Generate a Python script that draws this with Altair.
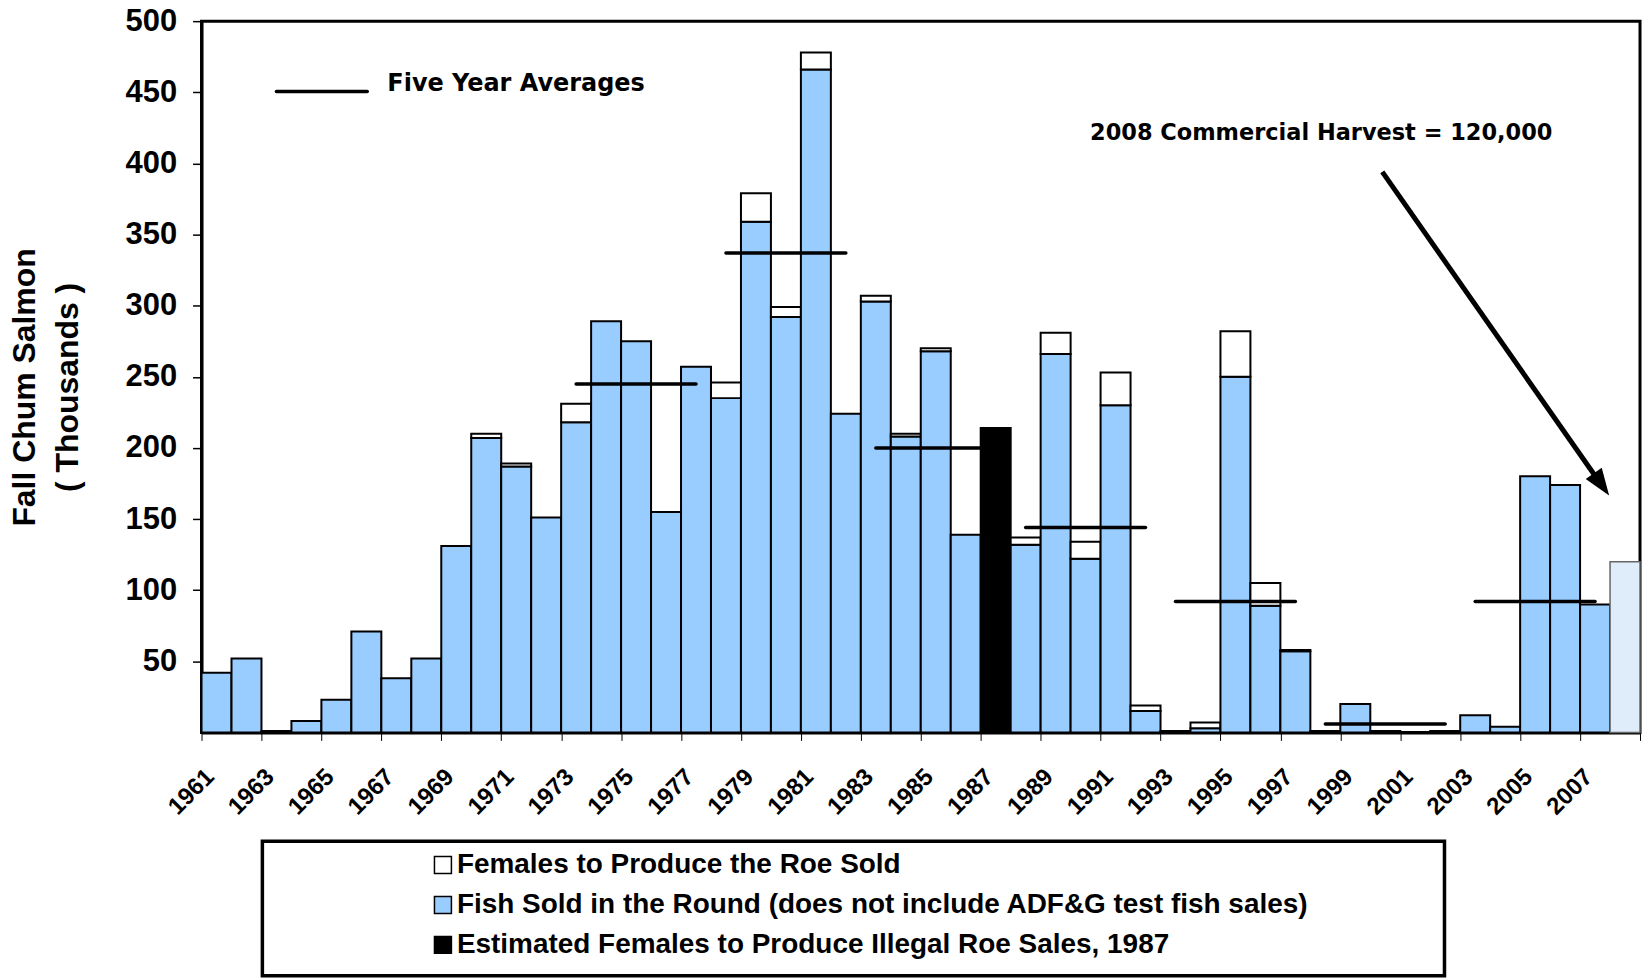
import altair as alt
import pandas as pd

# ---------------- data (thousands of fish) ----------------
years = list(range(1961, 2009))
round_sold = [42, 52, 1, 8, 23, 71, 38, 52, 131,
              207, 187, 151, 218, 289, 275, 155, 257, 235, 359,
              292, 466, 224, 303, 208, 268, 139, 0, 132, 266,
              122, 230, 15, 1, 3, 250, 89, 57, 1, 20,
              1, 0, 1, 12, 4, 180, 174, 90, 120]
roe_females = [0, 0, 0, 0, 0, 0, 0, 0, 0,
               3, 2, 0, 13, 0, 0, 0, 0, 11, 20,
               7, 12, 0, 4, 2, 2, 0, 0, 5, 15,
               12, 23, 4, 0, 4, 32, 16, 1, 0, 0,
               0, 0, 0, 0, 0, 0, 0, 0, 0]
illegal_year = 1987
illegal_value = 214
harvest_2008 = 120

cats = ["Females to Produce the Roe Sold",
        "Fish Sold in the Round (does not include ADF&G test fish sales)",
        "Estimated Females to Produce Illegal Roe Sales, 1987"]
cat_colors = ["white", "#99CCFF", "black"]

avg_start = [1973, 1978, 1983, 1988, 1993, 1998, 2003]
avg_end = [1977, 1982, 1987, 1992, 1997, 2002, 2007]
avg_value = [245, 337, 200, 144, 92, 6, 92]

# annotation anchors in data units
key_line_x = [1963.0, 1966.03]
key_line_y = 450.6
key_text = "Five Year Averages"
key_text_xy = (1966.7, 455.5)
harvest_text = "2008 Commercial Harvest = 120,000"
harvest_text_xy = (1990.15, 421.4)
arrow_from = (1999.9, 394.0)
arrow_to = (2007.47, 166.6)
arrow_line_end = (2007.18, 175.0)

# ---------------- tables ----------------
rows = []
for yr, r, f in zip(years, round_sold, roe_females):
    if yr == 2008:
        continue
    if yr == illegal_year:
        rows.append(dict(x0=yr - 0.5, x1=yr + 0.5, y0=0, y1=illegal_value, cat=cats[2]))
        continue
    rows.append(dict(x0=yr - 0.5, x1=yr + 0.5, y0=0, y1=r, cat=cats[1]))
    if f > 0:
        rows.append(dict(x0=yr - 0.5, x1=yr + 0.5, y0=r, y1=r + f, cat=cats[0]))
seg = pd.DataFrame(rows)
last = pd.DataFrame([dict(x0=2007.5, x1=2008.5, y0=0, y1=harvest_2008)])
avg = pd.DataFrame(dict(x0=avg_start, x1=avg_end, v=avg_value))
key_df = pd.DataFrame(dict(x0=[key_line_x[0]], x1=[key_line_x[1]], v=[key_line_y]))
texts = pd.DataFrame(dict(x=[key_text_xy[0], harvest_text_xy[0]],
                          y=[key_text_xy[1], harvest_text_xy[1]],
                          t=[key_text, harvest_text],
                          s=[24, 22.5]))
arrow = pd.DataFrame(dict(x=[arrow_from[0]], y=[arrow_from[1]],
                          x2=[arrow_line_end[0]], y2=[arrow_line_end[1]]))
head = pd.DataFrame(dict(x=[arrow_to[0]], y=[arrow_to[1]]))
one = pd.DataFrame(dict(a=[0]))

xscale = alt.Scale(domain=[1960.5, 2008.5], nice=False, zero=False)
yscale = alt.Scale(domain=[0, 500], nice=False)

xaxis = alt.Axis(
    values=[1960.5 + i for i in range(49)],
    labelExpr="(datum.value - 1960.5) % 2 == 0 && datum.value < 2008 ? toString(datum.value + 0.5) : ''",
    labelAngle=-45, labelAlign="right", labelBaseline="top",
    labelFont="Liberation Sans", labelFontWeight="bold", labelFontSize=24,
    labelColor="black", labelPadding=24, labelOverlap=False, labelFlush=False,
    tickSize=8, tickColor="black", tickWidth=1, domainColor="black", domainWidth=3,
    grid=False, title=None)

yaxis = alt.Axis(
    values=list(range(50, 501, 50)),
    labelFont="Liberation Sans", labelFontWeight="bold", labelFontSize=31,
    labelColor="black", labelPadding=16,
    tickSize=9, tickColor="black", tickWidth=1.5, domainColor="black", domainWidth=3,
    grid=False,
    title=["Fall Chum Salmon", "( Thousands )"],
    titleFont="Liberation Sans", titleFontWeight="bold", titleFontSize=32, titleColor="black",
    titleLineHeight=43, titleAngle=270, titleAlign="center", titleBaseline="middle",
    titleX=-177, titleY=366.7)

bars = alt.Chart(seg).mark_rect(stroke="black", strokeWidth=2).encode(
    x=alt.X("x0:Q", scale=xscale, axis=xaxis),
    x2="x1:Q",
    y=alt.Y("y0:Q", scale=yscale, axis=yaxis),
    y2="y1:Q",
    color=alt.Color("cat:N", title=None,
                    scale=alt.Scale(domain=cats, range=cat_colors),
                    legend=alt.Legend(orient="none", legendX=228, legendY=832,
                                      direction="vertical", symbolType="square",
                                      symbolSize=289, symbolStrokeColor="black",
                                      symbolStrokeWidth=1.5,
                                      labelFont="Liberation Sans", labelFontSize=28,
                                      labelFontWeight="bold", labelColor="black",
                                      labelLimit=1200, labelOffset=0, rowPadding=12,
                                      padding=0)),
)

bar2008 = alt.Chart(last).mark_rect(fill="#dfedfb", stroke="#666666", strokeWidth=1.5).encode(
    x="x0:Q", x2="x1:Q", y="y0:Q", y2="y1:Q")

avg_lines = alt.Chart(avg).mark_rule(color="black", strokeWidth=3.5, strokeCap="round").encode(
    x="x0:Q", x2="x1:Q", y="v:Q")

key_line = alt.Chart(key_df).mark_rule(color="black", strokeWidth=3.5, strokeCap="round").encode(
    x="x0:Q", x2="x1:Q", y="v:Q")

text_layer = alt.Chart(texts).mark_text(align="left", baseline="middle", font="DejaVu Sans",
                                        fontWeight="bold", color="black").encode(
    x="x:Q", y="y:Q", text="t:N", size=alt.Size("s:Q", scale=None, legend=None))

arrow_line = alt.Chart(arrow).mark_rule(color="black", strokeWidth=5).encode(
    x="x:Q", y="y:Q", x2="x2:Q", y2="y2:Q")

arrow_head = alt.Chart(head).mark_point(shape="M0,0L0.8,2.2L-0.8,2.2Z", filled=True, size=600,
                                        angle=145, color="black", opacity=1).encode(
    x="x:Q", y="y:Q")

legend_box = alt.Chart(one).mark_rect(fill="white", fillOpacity=0, stroke="black", strokeWidth=3.5).encode(
    x=alt.value(61), x2=alt.value(1246), y=alt.value(822), y2=alt.value(957))

chart = alt.layer(
    bars, bar2008, avg_lines, key_line, text_layer, arrow_line, arrow_head, legend_box
).properties(
    width=1442, height=713,
    autosize=alt.AutoSizeParams(type="none"),
    padding={"left": 194, "top": 12, "right": 4, "bottom": 246},
).configure_view(stroke="black", strokeWidth=3)

chart.save("out.html", embed_options={"renderer": "svg", "actions": False})
